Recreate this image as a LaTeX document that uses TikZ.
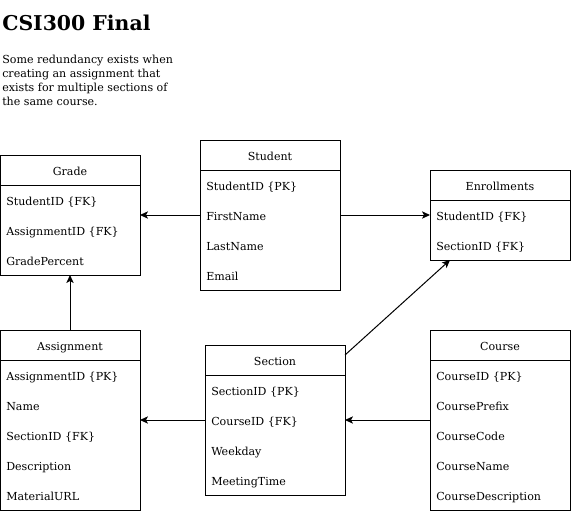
\documentclass[tikz,border=0pt]{standalone}
\usepackage{fontspec}
\setmainfont{DejaVu Serif}
\usetikzlibrary{arrows.meta,calc}
\newcommand\fs{\fontsize{8.3}{10.5}\selectfont}
\tikzset{
  ebox/.style={draw, line width=0.75pt, inner sep=0pt, outer sep=0pt, minimum width=105pt, anchor=north west},
  hdr/.style={font=\fs, inner sep=0pt, anchor=base},
  fld/.style={font=\fs, inner sep=0pt, anchor=base west},
  arr/.style={line width=0.75pt, -{Stealth[length=6pt,width=5.5pt,inset=1.5pt]}},
}
% name, x, y, nrows, title, fields
\newcommand\ent[6]{%
  \node[ebox, minimum height={(30+30*#4)*0.75pt}] (#1) at (#2,#3) {};
  \draw[line width=0.75pt] ($(#1.north west)+(0,30)$) -- ($(#1.north east)+(0,30)$);
  \node[hdr] (#1-t) at ($(#1.north)+(0,20)$) {#5};
  \foreach \f [count=\i] in {#6} {
    \coordinate (#1-\i) at ($(#1.north west)+(6,15+30*\i)$);
    \node[fld] (#1-f\i) at ($(#1.north west)+(6,20.5+30*\i)$) {\f};
  }
}
\begin{document}
\begin{tikzpicture}[x=0.75pt,y=-0.75pt]
\useasboundingbox (0,0) rectangle (571,511);
\node[anchor=base west, inner sep=0pt, font=\fontsize{15.3}{20}\selectfont\bfseries] (title) at (2,30) {CSI300 Final};
\node[anchor=north west, inner sep=0pt, align=left, font=\fontsize{8.3}{10.5}\selectfont] (note) at (2,55)
  {Some redundancy exists when\\creating an assignment that\\exists for multiple sections of\\the same course.};
\ent{grade}{0}{155}{3}{Grade}{StudentID \{FK\},AssignmentID \{FK\},GradePercent}
\ent{student}{200}{140}{4}{Student}{StudentID \{PK\},FirstName,LastName,Email}
\ent{enroll}{430}{170}{2}{Enrollments}{StudentID \{FK\},SectionID \{FK\}}
\ent{assign}{0}{330}{5}{Assignment}{AssignmentID \{PK\},Name,SectionID \{FK\},Description,MaterialURL}
\ent{section}{205}{345}{4}{Section}{SectionID \{PK\},CourseID \{FK\},Weekday,MeetingTime}
\ent{course}{430}{330}{5}{Course}{CourseID \{PK\},CoursePrefix,CourseCode,CourseName,CourseDescription}
\coordinate (secout) at ($(section.north east)+(0,10)$);
\coordinate (enrin) at ($(enroll.south west)+(20,0)$);
\draw[arr] (student.west |- student-2) -- (grade.east |- student-2);
\draw[arr] (student.east |- student-2) -- (enroll.west |- student-2);
\draw[arr] (assign.north) -- (grade.south);
\draw[arr] (section.west |- section-2) -- (assign.east |- section-2);
\draw[arr] (course.west |- section-2) -- (section.east |- section-2);
\draw[arr] (secout) -- (enrin);
\end{tikzpicture}
\end{document}
